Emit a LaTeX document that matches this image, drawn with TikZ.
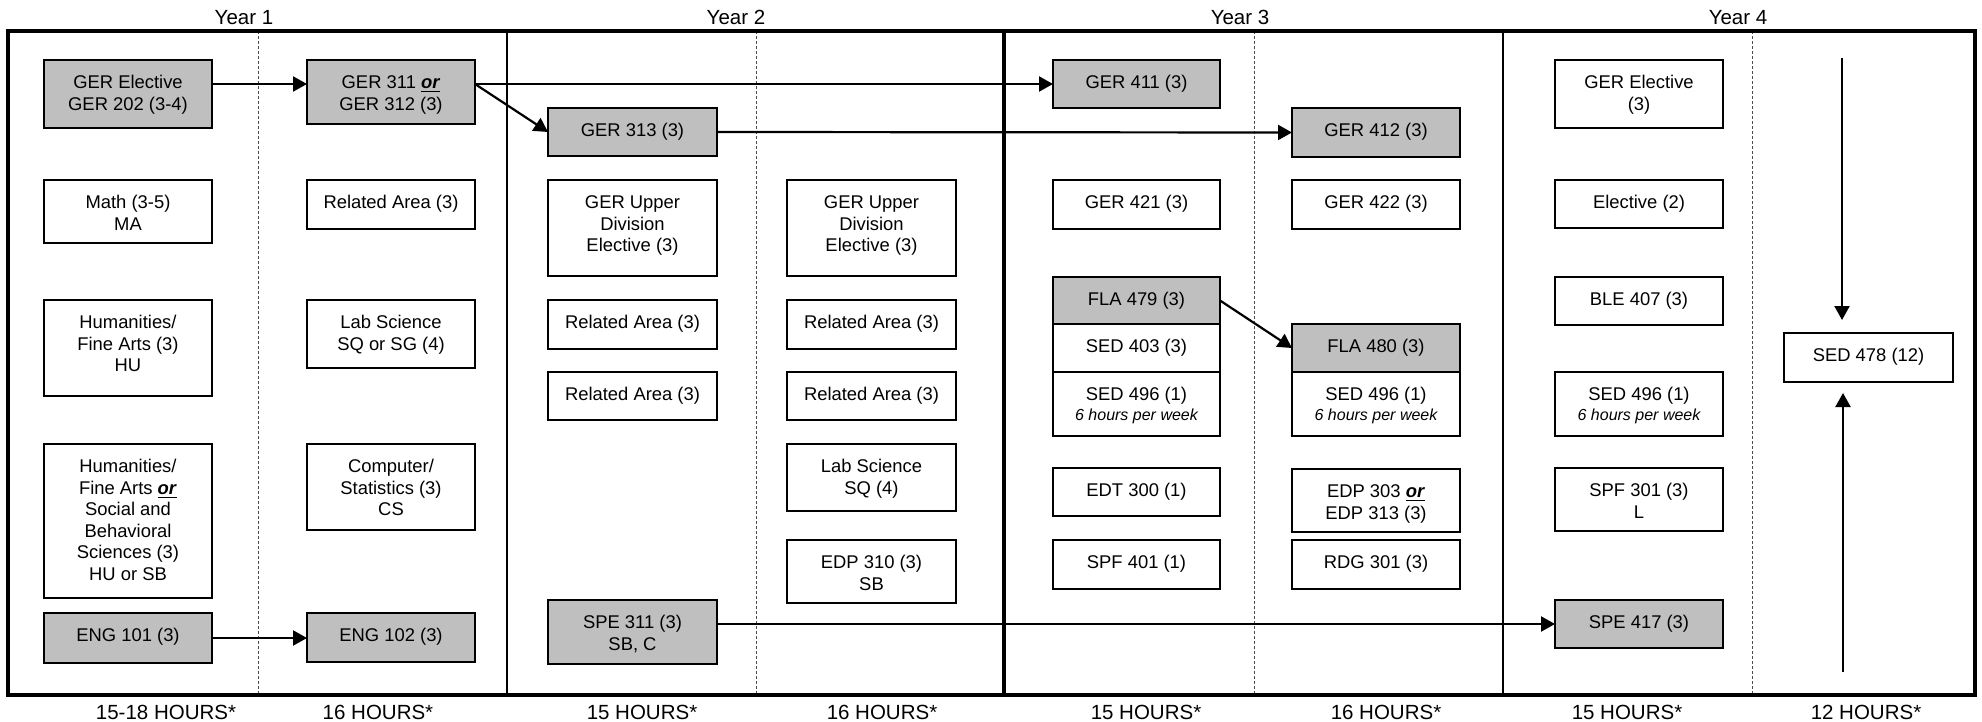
\documentclass[tikz,border=0pt]{standalone}
\usepackage{fontspec}
\setmainfont{Liberation Sans}
\usetikzlibrary{arrows.meta}
\definecolor{gbox}{RGB}{191,191,191}
\newcommand\orw{\underline{\textbf{\textit{or}}}}
\newcommand\wk{\\[-0.9pt]{\fontsize{8}{9.6}\selectfont\itshape 6 hours per week}}
\newcommand\bx[7]{\node[box,#1,anchor=north west] (#2) at (#3,#4) {\parbox[c][\dimexpr(#6pt-#4pt)/2\relax][t]{\dimexpr(#5pt-#3pt)/2\relax}{\centering\rule{0pt}{14.3pt}#7\par}};}
\begin{document}
\begin{tikzpicture}[x=0.5pt,y=-0.5pt,
  box/.style={draw=black,line width=0.9pt,fill=white,inner sep=0pt,outer sep=0pt,font=\fontsize{9.2}{10.75}\selectfont},
  grey/.style={fill=gbox},
  plain/.style={},
  lab/.style={font=\fontsize{10.25}{12}\selectfont,inner sep=0pt},
  frame/.style={line width=2pt},
  yearline/.style={line width=1pt},
  midline/.style={line width=1.8pt},
  semline/.style={line width=0.5pt,draw=black!70,dash pattern=on 1.5pt off 1pt},
  arr/.style={line width=1.1pt,-{Triangle[length=7pt,width=7.5pt]}}]
\useasboundingbox (0,0) rectangle (1982,722);
% semester dashed lines
\foreach \x in {258,756,1254,1752} \draw[semline] (\x,31) -- (\x,695);
% year lines
\draw[yearline] (507,31) -- (507,695);
\draw[midline] (1004,31) -- (1004,695);
\draw[yearline] (1503,31) -- (1503,695);
\draw[frame] (8,31) rectangle (1975,695);
% labels
\node[lab,anchor=base] (y1) at (244,25) {Year 1};
\node[lab,anchor=base] (y2) at (736,25) {Year 2};
\node[lab,anchor=base] (y3) at (1240,25) {Year 3};
\node[lab,anchor=base] (y4) at (1738,25) {Year 4};
\node[lab,anchor=base] (h1) at (166,719) {15-18 HOURS*};
\node[lab,anchor=base] (h2) at (378,719) {16 HOURS*};
\node[lab,anchor=base] (h3) at (642,719) {15 HOURS*};
\node[lab,anchor=base] (h4) at (882,719) {16 HOURS*};
\node[lab,anchor=base] (h5) at (1146,719) {15 HOURS*};
\node[lab,anchor=base] (h6) at (1386,719) {16 HOURS*};
\node[lab,anchor=base] (h7) at (1627,719) {15 HOURS*};
\node[lab,anchor=base] (h8) at (1866,719) {12 HOURS*};
% column 1
\bx{grey}{gerel}{44}{60}{212}{128}{GER Elective\\GER 202 (3-4)}
\bx{plain}{math}{44}{180}{212}{243}{Math (3-5)\\MA}
\bx{plain}{hum}{44}{300}{212}{396}{Humanities/\\Fine Arts (3)\\HU}
\bx{plain}{humsb}{44}{444}{212}{598}{Humanities/\\Fine Arts \orw\\Social and\\Behavioral\\Sciences (3)\\HU or SB}
\bx{grey}{engA}{44}{613}{212}{663}{ENG 101 (3)}
% column 2
\bx{grey}{gerA}{307}{60}{475}{124}{GER 311 \orw\\GER 312 (3)}
\bx{plain}{relA}{307}{180}{475}{229}{Related Area (3)}
\bx{plain}{labA}{307}{300}{475}{368}{Lab Science\\SQ or SG (4)}
\bx{plain}{comp}{307}{444}{475}{530}{Computer/\\Statistics (3)\\CS}
\bx{grey}{engB}{307}{613}{475}{662}{ENG 102 (3)}
% column 3
\bx{grey}{gerB}{548}{108}{717}{156}{GER 313 (3)}
\bx{plain}{gudA}{548}{180}{717}{276}{GER Upper\\Division\\Elective (3)}
\bx{plain}{relB}{548}{300}{717}{349}{Related Area (3)}
\bx{plain}{relC}{548}{372}{717}{420}{Related Area (3)}
\bx{grey}{speA}{548}{600}{717}{664}{SPE 311 (3)\\SB, C}
% column 4
\bx{plain}{gudB}{787}{180}{956}{276}{GER Upper\\Division\\Elective (3)}
\bx{plain}{relD}{787}{300}{956}{349}{Related Area (3)}
\bx{plain}{relE}{787}{372}{956}{420}{Related Area (3)}
\bx{plain}{labB}{787}{444}{956}{511}{Lab Science\\SQ (4)}
\bx{plain}{edpA}{787}{540}{956}{603}{EDP 310 (3)\\SB}
% column 5
\bx{grey}{gerC}{1053}{60}{1220}{108}{GER 411 (3)}
\bx{plain}{gerD}{1053}{180}{1220}{229}{GER 421 (3)}
\bx{grey}{flaA}{1053}{277}{1220}{324}{FLA 479 (3)}
\bx{plain}{sedA}{1053}{324}{1220}{372}{SED 403 (3)}
\bx{plain}{sedB}{1053}{372}{1220}{436}{SED 496 (1)\wk}
\bx{plain}{edt}{1053}{468}{1220}{516}{EDT 300 (1)}
\bx{plain}{spfA}{1053}{540}{1220}{589}{SPF 401 (1)}
% column 6
\bx{grey}{gerE}{1292}{108}{1460}{157}{GER 412 (3)}
\bx{plain}{gerF}{1292}{180}{1460}{229}{GER 422 (3)}
\bx{grey}{flaB}{1292}{324}{1460}{372}{FLA 480 (3)}
\bx{plain}{sedC}{1292}{372}{1460}{436}{SED 496 (1)\wk}
\bx{plain}{edpB}{1292}{469}{1460}{532}{EDP 303 \orw\\EDP 313 (3)}
\bx{plain}{rdg}{1292}{540}{1460}{589}{RDG 301 (3)}
% column 7
\bx{plain}{gerG}{1555}{60}{1723}{128}{GER Elective\\(3)}
\bx{plain}{elec}{1555}{180}{1723}{228}{Elective (2)}
\bx{plain}{ble}{1555}{277}{1723}{325}{BLE 407 (3)}
\bx{plain}{sedD}{1555}{372}{1723}{436}{SED 496 (1)\wk}
\bx{plain}{spfB}{1555}{468}{1723}{531}{SPF 301 (3)\\L}
\bx{grey}{speB}{1555}{600}{1723}{648}{SPE 417 (3)}
% column 8
\bx{plain}{sedE}{1784}{333}{1953}{382}{SED 478 (12)}
% connectors
\draw[arr] (gerel.east |- gerC.west) -- (gerA.west |- gerC.west);
\draw[arr] (gerA.east |- gerC.west) -- (gerC.west);
\draw[arr] (gerA.east |- gerC.west) -- (gerB.west);
\draw[arr] (gerB.east) -- (gerE.west);
\draw[arr] (engA.east) -- (engA.east -| engB.west);
\draw[arr] (flaA.east) -- (flaB.west);
\draw[arr] (speA.east |- speB.west) -- (speB.west);
\coordinate (ctop) at (1842,58);
\coordinate (cbot) at (1843,672);
\draw[arr,shorten >=6.5pt] (ctop) -- (ctop |- sedE.north);
\draw[arr,shorten >=5.5pt] (cbot) -- (cbot |- sedE.south);
\end{tikzpicture}
\end{document}
